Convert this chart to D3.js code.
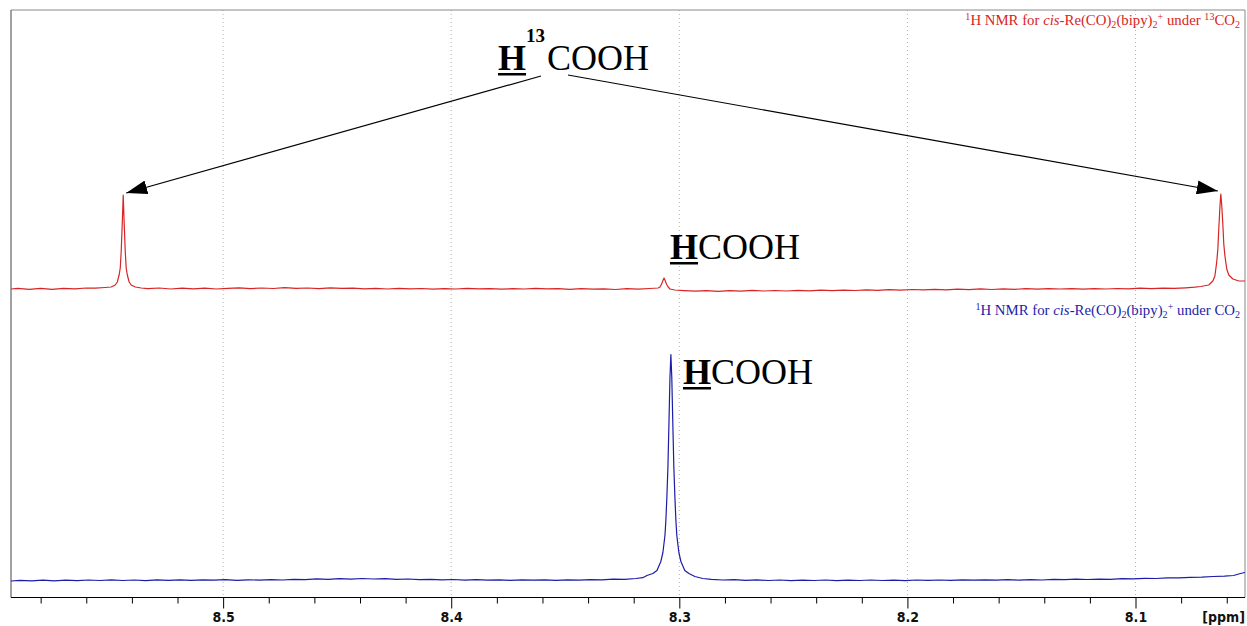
<!DOCTYPE html>
<html><head><meta charset="utf-8">
<script src="https://cdn.jsdelivr.net/npm/d3@7"></script>
<style>body{margin:0;background:#fff}svg{display:block}</style>
</head><body><svg id="c" width="1247" height="626"></svg>
<script>
// ---------- data ----------
const majorTicks = [8.5, 8.4, 8.3, 8.2, 8.1];
const minorTicks = [8.58, 8.56, 8.54, 8.52, 8.48, 8.46, 8.44, 8.42, 8.38, 8.36, 8.34, 8.32,
                    8.28, 8.26, 8.24, 8.22, 8.18, 8.16, 8.14, 8.12, 8.08, 8.06];
const axisUnit = "[ppm]";
const seriesNames = ["under 13CO2", "under CO2"];

// red spectrum (1H NMR under 13CO2): [ppm, intensity]
const redSpectrum = [
  [8.593,0],[8.590,0.6],[8.585,-0.3],[8.580,0.7],[8.575,-0.4],[8.570,0.6],[8.565,0.2],[8.560,1],[8.556,0.8],
  [8.5517,1.5],[8.5491,2],[8.5473,4],[8.5464,7],[8.5456,14],[8.5451,21],[8.5447,37],[8.5442,67],[8.5438,94],
  [8.5434,67],[8.5429,37],[8.5425,21],[8.5420,14],[8.5412,7],[8.5403,4],[8.5385,2],[8.5359,1],
  [8.533,0.3],[8.528,1],[8.523,0],[8.518,0.8],[8.513,0.2],[8.508,0.9],[8.503,0],[8.498,0.7],[8.493,1.2],[8.488,0.4],
  [8.483,1],[8.478,0.5],[8.473,1.3],[8.468,0.6],[8.463,1],[8.458,0.4],[8.453,1.1],[8.448,0.6],[8.443,0.9],[8.438,0.2],
  [8.433,0.6],[8.428,0],[8.423,0.7],[8.418,0.1],[8.413,0.5],[8.408,-0.2],[8.403,0.4],[8.398,0],[8.393,0.7],[8.388,0.1],
  [8.383,0.4],[8.378,-0.2],[8.373,0.3],[8.368,0],[8.363,0.6],[8.358,0.1],[8.353,0.3],[8.348,-0.3],[8.343,0.4],[8.338,-0.2],
  [8.333,0.2],[8.328,-0.5],[8.323,0.3],[8.318,-0.1],[8.313,0.5],
  [8.3093,1],[8.3085,2],[8.3080,4],[8.3076,6],[8.3071,9],[8.3067,11],[8.3063,9],[8.3058,6],[8.3054,4],[8.3049,2],[8.3041,0],
  [8.302,-1],[8.298,-1.6],[8.293,-2.2],[8.288,-1.6],[8.283,-2.3],[8.278,-1.7],[8.273,-2.1],[8.268,-1.4],[8.263,-2],[8.258,-1.5],
  [8.253,-2],[8.248,-1.3],[8.243,-1.8],[8.238,-1.2],[8.233,-1.7],[8.228,-1.1],[8.223,-1.5],[8.218,-0.8],[8.213,-1.3],[8.208,-0.7],
  [8.203,-1.1],[8.198,-0.5],[8.193,-0.9],[8.188,-0.3],[8.183,-0.8],[8.178,-0.2],[8.173,-0.6],[8.168,0.1],[8.163,-0.5],[8.158,0.2],
  [8.153,-0.3],[8.148,0.3],[8.143,-0.2],[8.138,0.4],[8.133,0],[8.128,0.3],[8.123,-0.2],[8.118,0.4],[8.113,0],[8.108,0.5],
  [8.103,0.2],[8.098,0.8],[8.093,0.3],[8.088,0.9],[8.083,0.6],[8.078,1.2],[8.074,1.8],
  [8.0714,2.5],[8.0679,4],[8.0661,8],[8.0652,13],[8.0644,27],[8.0639,40],[8.0635,60],[8.0630,82],[8.0626,95],
  [8.0622,84],[8.0617,64],[8.0613,45],[8.0608,33],[8.0600,20],[8.0591,14],[8.0573,10],[8.0547,8],[8.052,8]
];

// blue spectrum (1H NMR under CO2): [ppm, intensity]
const blueSpectrum = [
  [8.593,-0.5],[8.589,0.2],[8.584,-0.4],[8.579,0.3],[8.574,-0.3],[8.569,0.4],[8.564,-0.2],[8.559,0.5],[8.554,0],[8.549,0.6],
  [8.544,0],[8.539,0.5],[8.534,-0.1],[8.529,0.6],[8.524,0.1],[8.519,0.7],[8.514,0.2],[8.509,0.6],[8.504,0.3],[8.499,0.8],
  [8.494,0.2],[8.489,0.7],[8.484,0.4],[8.479,0.9],[8.474,0.5],[8.469,1.2],[8.464,0.9],[8.459,1.6],[8.454,1.2],[8.449,1.8],
  [8.444,1.3],[8.439,2],[8.434,1.5],[8.429,1.8],[8.424,1.2],[8.419,1.5],[8.414,0.8],[8.409,1.2],[8.404,0.6],[8.399,1],
  [8.394,0.4],[8.389,0.8],[8.384,0.3],[8.379,0.7],[8.374,0.2],[8.369,0.6],[8.364,0.3],[8.359,0.7],[8.354,0.2],[8.349,0.6],
  [8.344,0.4],[8.339,0.9],[8.334,0.7],[8.329,1.3],[8.324,1.2],[8.319,2],[8.316,2.8],
  [8.3142,5],[8.3116,7],[8.3098,10],[8.3081,19],[8.3072,28],[8.3063,45],[8.3059,60],[8.3055,81],[8.3050,113],[8.3046,152],
  [8.3041,203],[8.3037,226],[8.3033,203],[8.3028,152],[8.3024,113],[8.3019,81],[8.3015,60],[8.3011,45],[8.3002,28],[8.2993,19],
  [8.2976,10],[8.2958,7],[8.2932,4],[8.2897,2],
  [8.286,1.2],[8.281,0.5],[8.276,0.9],[8.271,0.2],[8.266,0.6],[8.261,0],[8.256,0.5],[8.251,-0.1],[8.246,0.4],[8.241,0],
  [8.236,0.5],[8.231,-0.1],[8.226,0.4],[8.221,0],[8.216,0.5],[8.211,0],[8.206,0.4],[8.201,-0.1],[8.196,0.5],[8.191,0.1],
  [8.186,0.5],[8.181,0.1],[8.176,0.6],[8.171,0.3],[8.166,0.7],[8.161,0.3],[8.156,0.8],[8.151,0.4],[8.146,0.8],[8.141,0.5],
  [8.136,1.1],[8.131,0.8],[8.126,1.3],[8.121,1],[8.116,1.4],[8.111,1.2],[8.106,1.8],[8.101,1.6],[8.096,2.2],[8.091,2],
  [8.086,2.6],[8.081,2.6],[8.076,3.2],[8.071,3.3],[8.066,4],[8.061,4.3],[8.057,5],[8.054,7],[8.052,8]
];

// ---------- chart ----------
const svg = d3.select("#c");
const W = 1247, H = 626;
const L = 11, R = 1245, T = 10, B = 597.5;
const x = d3.scaleLinear().domain([8.593, 8.052]).range([L, R]);
const y = d3.scaleLinear().domain([0, 587.5]).range([B, T]);
const redOffset = 308.5, blueOffset = 17;
const red = "#d82424", blue = "#1c1ca8";

svg.append("rect").attr("width", W).attr("height", H).attr("fill", "#fff");
svg.append("defs").append("clipPath").attr("id", "clip")
  .append("rect").attr("x", L).attr("y", T).attr("width", R - L).attr("height", B - T);

// grid lines
svg.append("g").selectAll("line").data(majorTicks).join("line")
  .attr("x1", d => x(d)).attr("x2", d => x(d)).attr("y1", T).attr("y2", B)
  .attr("stroke", "#b4b4b4").attr("stroke-width", 1).attr("stroke-dasharray", "1,3");

// frame
svg.append("line").attr("x1", L).attr("x2", R).attr("y1", T).attr("y2", T).attr("stroke", "#8a8a8a");
svg.append("line").attr("x1", L).attr("x2", L).attr("y1", T).attr("y2", B).attr("stroke", "#444");
svg.append("line").attr("x1", R).attr("x2", R).attr("y1", T).attr("y2", B).attr("stroke", "#888");

// spectra
const line = off => d3.line().x(d => x(d[0])).y(d => y(off + d[1]));
const plot = svg.append("g").attr("clip-path", "url(#clip)");
plot.append("path").datum(redSpectrum).attr("d", line(redOffset))
  .attr("fill", "none").attr("stroke", red).attr("stroke-width", 1.2).attr("stroke-linejoin", "round");
plot.append("path").datum(blueSpectrum).attr("d", line(blueOffset))
  .attr("fill", "none").attr("stroke", blue).attr("stroke-width", 1.2).attr("stroke-linejoin", "round");

// axes
const axisFont = "'Liberation Sans Narrow','Arial Narrow','DejaVu Sans Condensed',sans-serif";
const axisG = svg.append("g").attr("transform", `translate(0,${B})`);
axisG.append("g").call(d3.axisBottom(x).tickValues(minorTicks).tickSize(6).tickFormat(""))
  .call(g => g.select(".domain").remove());
const major = axisG.append("g").call(d3.axisBottom(x).tickValues(majorTicks).tickSize(11).tickPadding(4).tickFormat(d3.format(".1f")));
major.select(".domain").attr("stroke", "#000").attr("d", `M${L},0H${R}`);
axisG.selectAll(".tick line").attr("stroke", "#000");
major.selectAll("text").attr("font-family", axisFont)
  .attr("font-size", 14).attr("font-weight", "bold").attr("fill", "#111");
svg.append("text").attr("x", R).attr("y", 622).attr("text-anchor", "end")
  .attr("font-family", axisFont)
  .attr("font-size", 14).attr("font-weight", "bold").attr("fill", "#111").text(axisUnit);

// rich text helper
function rich(xp, yp, parts, color, size) {
  const t = svg.append("text").attr("x", xp).attr("y", yp).attr("text-anchor", "end")
    .attr("font-family", "'Liberation Serif','Times New Roman',serif").attr("font-size", size).attr("fill", color);
  let shift = 0;
  parts.forEach(p => {
    const target = p.s === "sup" ? -5 : p.s === "sub" ? 3 : 0;
    const ts = t.append("tspan").attr("dy", target - shift).text(p.t);
    if (p.s) ts.attr("font-size", size * 0.68);
    if (p.i) ts.attr("font-style", "italic");
    shift = target;
  });
}
const legendParts = last => [
  {t: "1", s: "sup"}, {t: "H NMR for "}, {t: "cis", i: true}, {t: "-Re(CO)"}, {t: "2", s: "sub"},
  {t: "(bipy)"}, {t: "2", s: "sub"}, {t: "+", s: "sup"}, {t: " under "}].concat(last);
rich(1240, 25, legendParts([{t: "13", s: "sup"}, {t: "CO"}, {t: "2", s: "sub"}]), red, 14.8);
rich(1240, 315, legendParts([{t: "CO"}, {t: "2", s: "sub"}]), blue, 14.8);

// peak labels
const serif = "'Liberation Serif','Times New Roman',serif";
function hLabel(xp, yp, sup) {
  const g = svg.append("g");
  const h = g.append("text").attr("x", xp).attr("y", yp).attr("font-family", serif)
    .attr("font-size", 36).attr("font-weight", "bold").text("H");
  const hw = h.node().getComputedTextLength();
  g.append("rect").attr("x", xp).attr("y", yp + 3).attr("width", hw).attr("height", 2.5);
  let cx = xp + hw;
  if (sup) {
    const s = g.append("text").attr("x", cx).attr("y", yp - 28).attr("font-family", serif)
      .attr("font-size", 19).attr("font-weight", "bold").text(sup);
    cx += s.node().getComputedTextLength() + 2;
  }
  g.append("text").attr("x", cx).attr("y", yp).attr("font-family", serif).attr("font-size", 36).text("COOH");
}
hLabel(498, 70, "13");
hLabel(670, 259, null);
hLabel(683, 384, null);

// arrows
const defs = svg.select("defs");
defs.append("marker").attr("id", "ah").attr("viewBox", "0 0 10 10").attr("refX", 10).attr("refY", 5)
  .attr("markerWidth", 21).attr("markerHeight", 14).attr("markerUnits", "userSpaceOnUse")
  .attr("orient", "auto").attr("preserveAspectRatio", "none")
  .append("path").attr("d", "M0,0L10,5L0,10Z").attr("fill", "#000");
const leftTip = [x(8.5438) + 3, y(redOffset + 94) - 2];
const rightTip = [x(8.0626) - 3, y(redOffset + 95) - 3];
svg.append("line").attr("x1", 541).attr("y1", 76).attr("x2", leftTip[0]).attr("y2", leftTip[1])
  .attr("stroke", "#000").attr("stroke-width", 1.2).attr("marker-end", "url(#ah)");
svg.append("line").attr("x1", 568).attr("y1", 75).attr("x2", rightTip[0]).attr("y2", rightTip[1])
  .attr("stroke", "#000").attr("stroke-width", 1.2).attr("marker-end", "url(#ah)");
</script></body></html>
